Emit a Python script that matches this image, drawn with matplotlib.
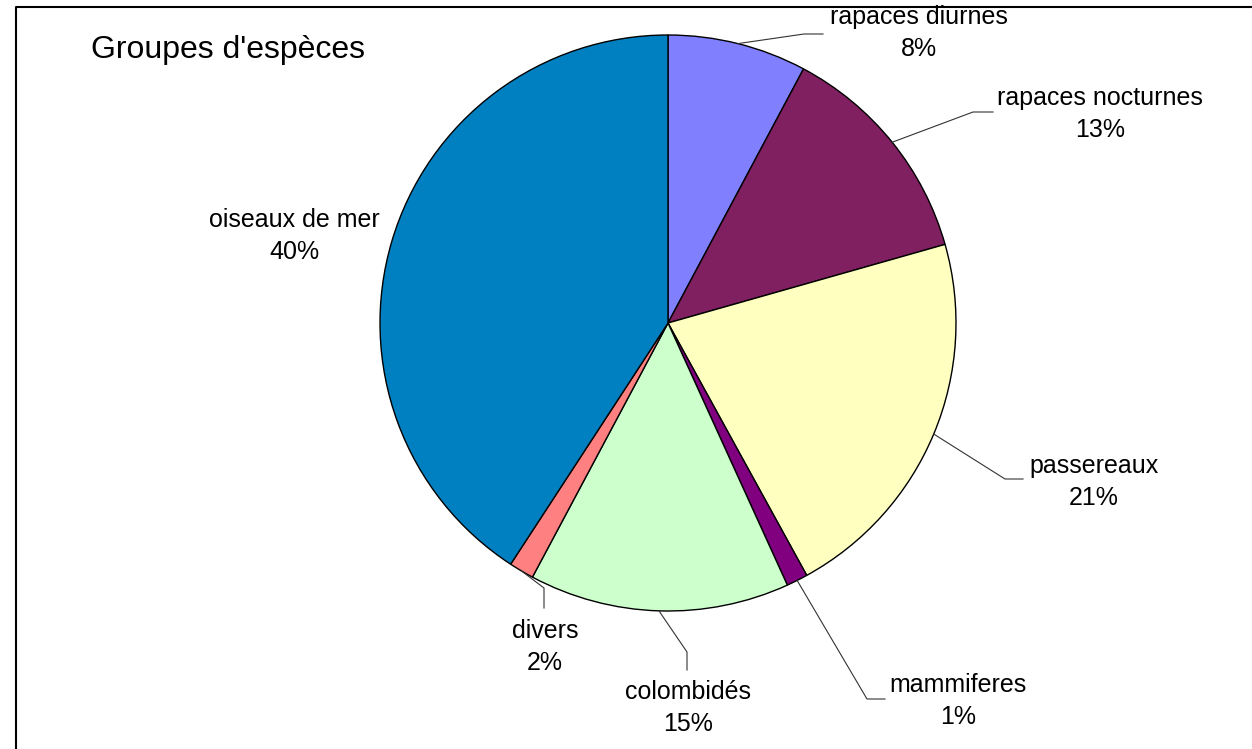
import matplotlib
matplotlib.use("Agg")
import matplotlib.pyplot as plt
import numpy as np

categories = ["rapaces diurnes", "rapaces nocturnes", "passereaux", "mammiferes",
              "colombidés", "divers", "oiseaux de mer"]
values = [7.8, 12.8, 21.4, 1.2, 14.6, 1.4, 40.8]
pct_labels = ["8%", "13%", "21%", "1%", "15%", "2%", "40%"]
colors = ["#8080FF", "#802060", "#FFFFC0", "#800080", "#CCFFCC", "#FF8080", "#0080C0"]

# label layout (pixel coordinates, y downward): text centre, elbow, end of leader
label_pos = {
    "rapaces diurnes": (919, 33),
    "rapaces nocturnes": (1100, 114),
    "passereaux": (1094, 482),
    "mammiferes": (958, 701),
    "colombidés": (688, 708),
    "divers": (545, 647),
    "oiseaux de mer": (294, 236),
}
leader = {
    "rapaces diurnes": [(804, 34), (823, 34)],
    "rapaces nocturnes": [(973, 112), (993, 112)],
    "passereaux": [(1005, 479), (1023, 479)],
    "mammiferes": [(867, 699), (885, 699)],
    "colombidés": [(687, 652), (687, 670)],
    "divers": [(544, 588), (544, 608)],
}

W, H = 1252, 749
fig = plt.figure(figsize=(W / 100, H / 100), dpi=100)
ax = fig.add_axes([0, 0, 1, 1])

cx, cy, R = 668, H - 323, 288
wedges, _ = ax.pie(values, colors=colors, startangle=90, counterclock=False,
                   center=(cx, cy), radius=R, frame=True,
                   wedgeprops=dict(edgecolor="black", linewidth=1.0))
ax.set_xlim(0, W)
ax.set_ylim(0, H)
ax.set_aspect("equal")
ax.axis("off")

font = "Liberation Sans"
for w, name, lab in zip(wedges, categories, pct_labels):
    mid = np.deg2rad((w.theta1 + w.theta2) / 2)
    ex, ey = cx + R * np.cos(mid), cy + R * np.sin(mid)
    if name in leader:
        pts = [(ex, ey)] + [(x, H - y) for x, y in leader[name]]
        xs, ys = zip(*pts)
        ax.plot(xs, ys, color="#333333", lw=0.8)
    tx, ty = label_pos[name]
    ax.text(tx, H - ty, f"{name}\n{lab}", ha="center", va="center",
            fontsize=18, family=font, linespacing=1.38)

ax.text(91, H - 50, "Groupes d'espèces", ha="left", va="center",
        fontsize=23, family=font)

# chart frame
ax.plot([16, 16, W + 5], [-5, H - 7, H - 7], color="black", lw=1.5, clip_on=False)

fig.savefig("out.png", dpi=100)
